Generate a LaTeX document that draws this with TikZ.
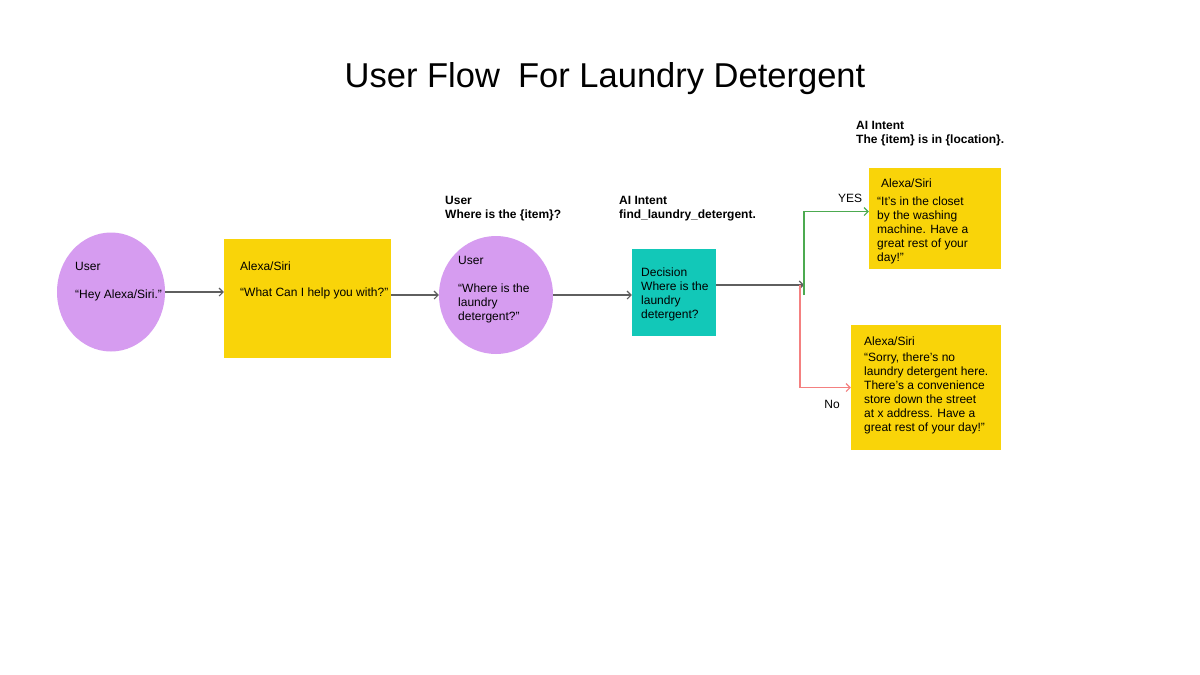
\documentclass[tikz,border=0pt]{standalone}
\usepackage{fontspec}
\setmainfont{Liberation Sans}
\usetikzlibrary{shapes.geometric,arrows.meta}
\definecolor{bubble}{RGB}{214,156,240}
\definecolor{note}{RGB}{249,212,9}
\definecolor{choice}{RGB}{18,200,184}
\definecolor{flowgrey}{RGB}{95,95,95}
\definecolor{yesgreen}{RGB}{76,170,80}
\definecolor{nored}{RGB}{244,128,128}
\tikzset{
  bubble/.style={ellipse, fill=bubble, inner sep=0pt},
  notebox/.style={rectangle, fill=note, inner sep=0pt},
  choicebox/.style={rectangle, fill=choice, inner sep=0pt},
  txt/.style={anchor=north west, inner sep=0pt, align=left, font=\fontsize{12}{14}\selectfont},
  headtxt/.style={txt, font=\bfseries\fontsize{12}{14}\selectfont},
  flow/.style={-{Straight Barb[length=4pt,width=8pt]}, draw=flowgrey, line width=1.1pt},
  yesflow/.style={flow, draw=yesgreen},
  noflow/.style={flow, draw=nored}
}

\begin{document}
\begin{tikzpicture}[x=1pt,y=-1pt]
\useasboundingbox[fill=white] (0,0) rectangle (1200,675);
% title
\node (title) at (605,79) {\fontsize{34.5}{38}\selectfont User Flow\hspace{0.25em} For Laundry Detergent};

% shapes
\node[bubble, minimum width=108pt, minimum height=119pt] (user1) at (111,292) {};
\node[notebox, minimum width=167pt, minimum height=119pt] (reply1) at (307.5,298.5) {};
\node[bubble, minimum width=114pt, minimum height=118pt] (ask) at (496,295) {};
\node[choicebox, minimum width=84pt, minimum height=87pt] (decide) at (674,292.5) {};
\node[notebox, minimum width=132pt, minimum height=101pt] (yes) at (935,218.5) {};
\node[notebox, minimum width=150pt, minimum height=125pt] (no) at (926,387.5) {};

% texts inside
\node[txt] (user1txt) at (75,262.5) {User\\[14pt]“Hey Alexa/Siri.”};
\node[txt] (reply1txt) at (240,261.5) {Alexa/Siri\\[12pt]“What Can I help you with?”};
\node[txt] (asktxt) at (458,256.5) {User\\[14pt]“Where is the\\laundry\\detergent?”};
\node[txt] (decidetxt) at (641,267.5) {Decision\\Where is the\\laundry\\detergent?};
\node[txt] (yestxt) at (877,178.5) {\hspace{4pt}Alexa/Siri\\[4pt]“It’s in the closet\\by the washing\\machine. Have a\\great rest of your\\day!”};
\node[txt] (notxt) at (864,336.5) {Alexa/Siri\\[2pt]“Sorry, there’s no\\laundry detergent here.\\There’s a convenience\\store down the street\\at x address. Have a\\great rest of your day!”};

% headings
\node[headtxt] (askhead) at (445,196.5) {User\\Where is the \{item\}?};
\node[headtxt] (intent1) at (619,196.5) {AI Intent\\find\_laundry\_detergent.};
\node[headtxt] (intent2) at (856,121.5) {AI Intent\\The \{item\} is in \{location\}.};

% connectors
\coordinate (split) at (804,285);
\draw[flow] (user1.east) -- (user1.east -| reply1.west);
\draw[flow] (ask.west -| reply1.east) -- (ask.west);
\draw[flow] (ask.east) -- (ask.east -| decide.west);
\draw[flow] (decide.east |- split) -- (split);
\draw[yesflow] ([yshift=-10pt]split) |- ([yshift=7pt]yes.west);
\draw[noflow] ([xshift=-4pt]split) |- (no.west);
\node[font=\fontsize{12}{14}\selectfont] (yeslbl) at (850,198) {YES};
\node[font=\fontsize{12}{14}\selectfont] (nolbl) at (832,404) {No};
\end{tikzpicture}
\end{document}
